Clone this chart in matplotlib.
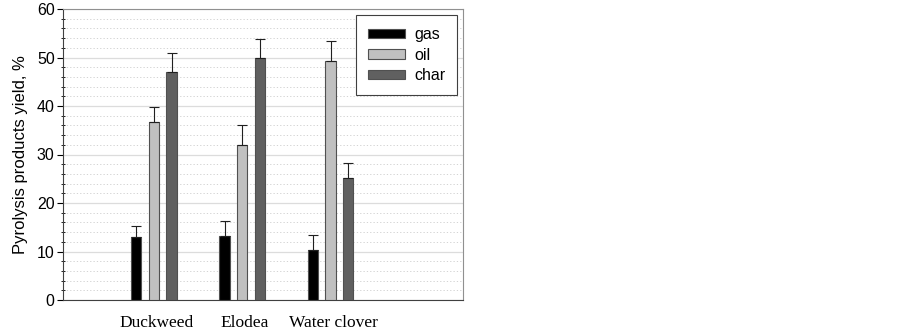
import matplotlib
matplotlib.use('Agg')
import matplotlib.pyplot as plt
import numpy as np
from matplotlib.ticker import MultipleLocator

# data
plants = ['Duckweed', 'Elodea', 'Water clover']
products = ['gas', 'oil', 'char']
gas = [13.0, 13.2, 10.4]
oil = [36.7, 32.0, 49.3]
char = [47.0, 49.8, 25.1]
gas_err = [2.2, 3.1, 3.1]
oil_err = [3.0, 4.0, 4.1]
char_err = [4.0, 4.0, 3.1]

colors = ['#000000', '#c0c0c0', '#606060']

plt.rcParams['font.family'] = ['Liberation Sans', 'DejaVu Sans']

fig = plt.figure(figsize=(9.03, 3.35), dpi=100)
ax = fig.add_axes([63 / 903, 1 - 300 / 335, 400 / 903, 291 / 335])

x = np.arange(len(plants))
width = 0.118
step = 0.2
series = [gas, oil, char]
errs = [gas_err, oil_err, char_err]
for i, (vals, err) in enumerate(zip(series, errs)):
    ax.bar(x + (i - 1) * step, vals, width, color=colors[i], edgecolor='#505050',
           linewidth=0.8, label=products[i], zorder=3,
           yerr=[np.zeros(len(err)), err], capsize=3.5,
           error_kw=dict(ecolor='#202020', elinewidth=0.8, capthick=0.8))

ax.set_xlim(-1.03, 3.5)
ax.set_ylim(0, 60)
ax.yaxis.set_major_locator(MultipleLocator(10))
ax.yaxis.set_minor_locator(MultipleLocator(2))
ax.grid(axis='y', which='major', color='#dcdcdc', linewidth=0.9, zorder=0)
ax.grid(axis='y', which='minor', color='#cccccc', linewidth=0.6, linestyle=(0, (1.5, 2.5)), zorder=0)

ax.set_xticks(x + 0.03)
ax.set_xticklabels(plants, fontfamily='Liberation Serif', fontsize=12.5)
ax.tick_params(axis='x', length=0, pad=11)
ax.tick_params(axis='y', which='major', direction='out', length=4, labelsize=11.5, pad=2)
ax.tick_params(axis='y', which='minor', direction='inout', length=3)

for s in ['left', 'bottom']:
    ax.spines[s].set_color('#404040')
for s in ['top', 'right']:
    ax.spines[s].set_color('#909090')

ax.set_ylabel('Pyrolysis products yield, %', fontsize=12, labelpad=6)

leg = ax.legend(loc='upper right', bbox_to_anchor=(0.985, 0.979), fontsize=11.5,
                fancybox=False, edgecolor='#404040', framealpha=1,
                handlelength=2.3, handleheight=0.55, handletextpad=0.55,
                labelspacing=0.35, borderpad=0.75, borderaxespad=0)
leg.get_frame().set_linewidth(0.8)

fig.savefig('out.png', dpi=100)
